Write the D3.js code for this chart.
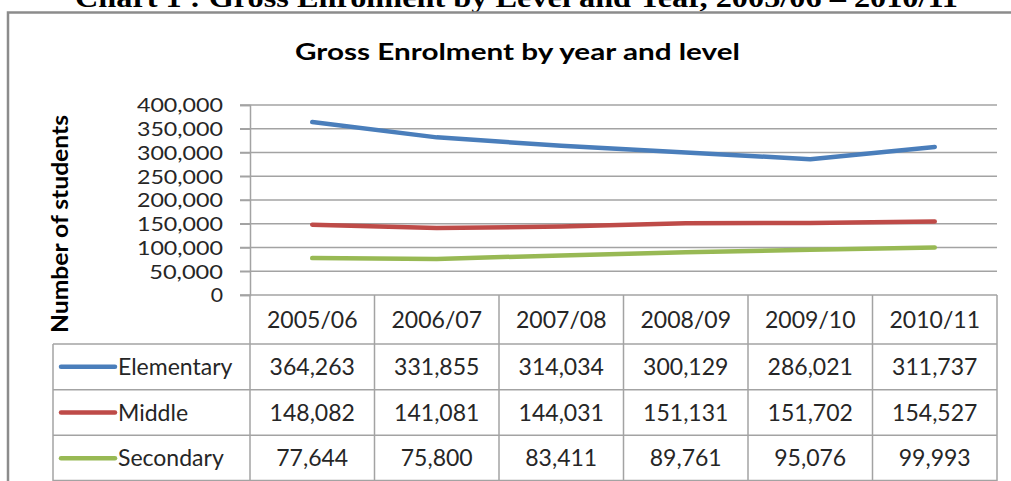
<!DOCTYPE html>
<html>
<head>
<meta charset="utf-8">
<script src="https://cdn.jsdelivr.net/npm/d3@7"></script>
<style>
  html, body { margin: 0; padding: 0; background: #fff; overflow: hidden; }
  svg { display: block; }
</style>
</head>
<body>
<svg id="chart" width="1011" height="481"></svg>
<script>
const years = ["2005/06", "2006/07", "2007/08", "2008/09", "2009/10", "2010/11"];
const seriesNames = ["Elementary", "Middle", "Secondary"];
const elementary = [364263, 331855, 314034, 300129, 286021, 311737];
const middle = [148082, 141081, 144031, 151131, 151702, 154527];
const secondary = [77644, 75800, 83411, 89761, 95076, 99993];
const yTicks = [0, 50000, 100000, 150000, 200000, 250000, 300000, 350000, 400000];

const seriesValues = [elementary, middle, secondary];
const colors = ["#4a7ebb", "#be4b48", "#98b954"];

const font = "Lato, 'Open Sans', sans-serif";
const gridColor = "#a3a3a3";
const textColor = "#262626";
const fmt = d3.format(",");

const svg = d3.select("#chart");

// plot area + table geometry
const plot = { left: 250, right: 997, top: 105, bottom: 295 };
const tableLeft = 53;
const headerBottom = 344;
const tableBottom = 481;

const x = d3.scaleBand().domain(years).range([plot.left, plot.right]);
const y = d3.scaleLinear().domain([0, 400000]).range([plot.bottom, plot.top]);
const row = d3.scaleBand().domain(seriesNames).range([headerBottom, tableBottom]);

// clipped document heading above the chart box
svg.append("text")
  .attr("x", 75)
  .attr("y", 6.5)
  .attr("font-family", "'Liberation Serif', 'Times New Roman', serif")
  .attr("font-weight", "bold")
  .attr("font-size", 28)
  .attr("fill", "#000")
  .attr("textLength", 883)
  .attr("lengthAdjust", "spacingAndGlyphs")
  .text("Chart 1 : Gross Enrolment by Level and Year, 2005/06 \u2013 2010/11");

// chart frame (right and bottom edges fall outside the picture)
svg.append("rect")
  .attr("x", 8)
  .attr("y", 12.5)
  .attr("width", 1100)
  .attr("height", 600)
  .attr("fill", "none")
  .attr("stroke", "#8c8c8c")
  .attr("stroke-width", 2.5);

svg.append("text")
  .attr("x", 295)
  .attr("y", 60)
  .attr("font-family", font)
  .attr("font-weight", "bold")
  .attr("font-size", 22)
  .attr("fill", "#000")
  .attr("textLength", 445)
  .attr("lengthAdjust", "spacingAndGlyphs")
  .text("Gross Enrolment by year and level");

svg.append("text")
  .attr("transform", "translate(68,333) rotate(-90)")
  .attr("font-family", font)
  .attr("font-weight", "bold")
  .attr("font-size", 22)
  .attr("fill", "#000")
  .attr("textLength", 218)
  .attr("lengthAdjust", "spacingAndGlyphs")
  .text("Number of students");

// gridlines
svg.append("g")
  .selectAll("line")
  .data(yTicks)
  .join("line")
  .attr("x1", plot.left - 10)
  .attr("x2", plot.right)
  .attr("y1", (d) => y(d))
  .attr("y2", (d) => y(d))
  .attr("stroke", gridColor)
  .attr("stroke-width", 1.5);

// y axis
const yAxis = svg.append("g")
  .attr("transform", `translate(${plot.left},0)`)
  .call(d3.axisLeft(y).tickValues(yTicks).tickSize(10).tickPadding(17).tickFormat(fmt));
yAxis.select(".domain").attr("stroke", gridColor).attr("stroke-width", 1.5);
yAxis.selectAll(".tick line").attr("stroke", gridColor).attr("stroke-width", 1.5);
yAxis.selectAll(".tick text")
  .attr("font-family", font)
  .attr("font-size", 19)
  .attr("fill", textColor)
  .attr("dy", "0.36em")
  .attr("textLength", (d) => fmt(d).length * 12.3)
  .attr("lengthAdjust", "spacingAndGlyphs");

// table grid
const table = svg.append("g")
  .attr("stroke", gridColor)
  .attr("stroke-width", 1.5);

table.selectAll("line.col")
  .data(years.map((d) => x(d)).concat([plot.right]))
  .join("line")
  .attr("class", "col")
  .attr("x1", (d) => d)
  .attr("x2", (d) => d)
  .attr("y1", plot.bottom)
  .attr("y2", tableBottom);

table.append("line")
  .attr("x1", tableLeft).attr("x2", tableLeft)
  .attr("y1", headerBottom).attr("y2", tableBottom);

table.selectAll("line.row")
  .data(seriesNames)
  .join("line")
  .attr("class", "row")
  .attr("x1", tableLeft)
  .attr("x2", plot.right)
  .attr("y1", (d) => row(d))
  .attr("y2", (d) => row(d));

table.append("line")
  .attr("x1", tableLeft).attr("x2", plot.right)
  .attr("y1", tableBottom - 0.5).attr("y2", tableBottom - 0.5);

// header labels
svg.append("g")
  .selectAll("text")
  .data(years)
  .join("text")
  .attr("x", (d) => x(d) + x.bandwidth() / 2)
  .attr("y", (plot.bottom + headerBottom) / 2)
  .attr("dy", "0.36em")
  .attr("text-anchor", "middle")
  .attr("font-family", font)
  .attr("font-size", 23)
  .attr("fill", textColor)
  .text((d) => d);

// lines
const line = d3.line()
  .x((d, i) => x(years[i]) + x.bandwidth() / 2)
  .y((d) => y(d));

svg.append("g")
  .selectAll("path")
  .data(seriesValues)
  .join("path")
  .attr("d", line)
  .attr("fill", "none")
  .attr("stroke", (d, i) => colors[i])
  .attr("stroke-width", 4.5)
  .attr("stroke-linecap", "round")
  .attr("stroke-linejoin", "round");

// table rows: legend key, name, values
const rows = svg.append("g")
  .selectAll("g")
  .data(seriesNames)
  .join("g")
  .attr("transform", (d) => `translate(0,${row(d) + row.bandwidth() / 2})`);

rows.append("line")
  .attr("x1", 61)
  .attr("x2", 115)
  .attr("stroke", (d, i) => colors[i])
  .attr("stroke-width", 4.5)
  .attr("stroke-linecap", "round");

rows.append("text")
  .attr("x", 118)
  .attr("dy", "0.36em")
  .attr("font-family", font)
  .attr("font-size", 23)
  .attr("fill", textColor)
  .text((d) => d);

rows.each(function (name, i) {
  d3.select(this)
    .selectAll("text.val")
    .data(seriesValues[i])
    .join("text")
    .attr("class", "val")
    .attr("x", (d, j) => x(years[j]) + x.bandwidth() / 2)
    .attr("dy", "0.36em")
    .attr("text-anchor", "middle")
    .attr("font-family", font)
    .attr("font-size", 23)
    .attr("fill", textColor)
    .text((d) => fmt(d));
});
</script>
</body>
</html>
